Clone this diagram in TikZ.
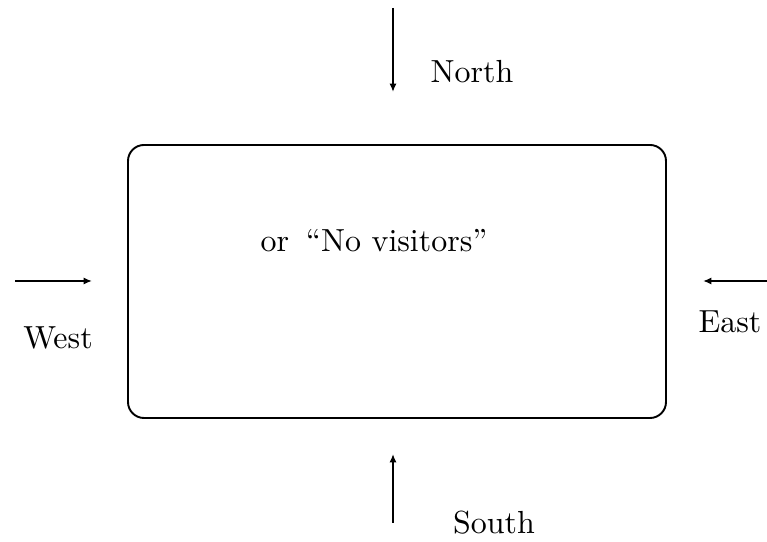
\documentclass[tikz,border=0pt]{standalone}
\usepackage{tikz}
\usetikzlibrary{arrows.meta}

\begin{document}
\begin{tikzpicture}[scale=.11, line width=0.6pt]
  \useasboundingbox (0,0) rectangle (76.7,54.2);
  \tikzset{dir/.style={-{Latex[length=2.6pt,width=2.2pt]}}}
  \begin{scope}
    \draw [rounded corners=5pt] (12.8,12.4) rectangle (66.6,39.7);
    \node (msg) at (37.4,30.1) {or\hspace{5.3pt}``No visitors''};

% arrows round the box
\coordinate (ntop) at (39.3,53.4);
\coordinate (nend) at (39.3,45.0);
\coordinate (wtop) at (1.5,26.1);
\coordinate (wend) at (9.2,26.1);
\coordinate (etop) at (76.7,26.1);
\coordinate (eend) at (70.3,26.1);
\coordinate (stop) at (39.3,1.9);
\coordinate (send) at (39.3,8.8);

\draw [dir] (ntop) -- (nend);
\draw [dir] (wtop) -- (wend);
\draw [dir] (etop) -- (eend);
\draw [dir] (stop) -- (send);

\node (north) at (47.2,47.0) {North};
\node (west) at (5.8,20.4) {West};
\node (east) at (73.0,22.0) {East};
\node (south) at (49.4,1.9) {South};

  \end{scope}
\end{tikzpicture}
\end{document}
